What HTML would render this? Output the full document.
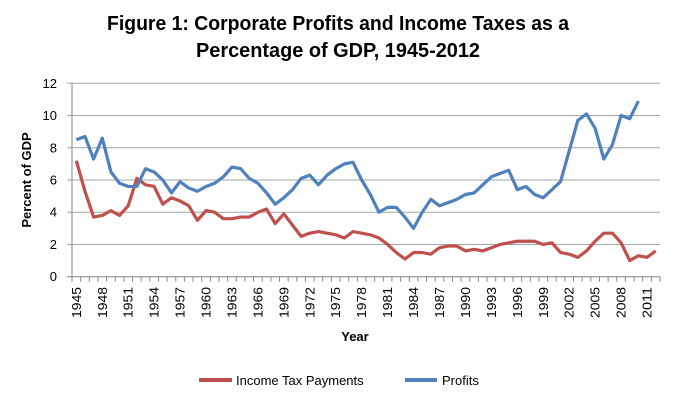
<!DOCTYPE html>
<html><head><meta charset="utf-8"><style>
html,body{margin:0;padding:0;background:#fff;}
svg{display:block;font-family:"Liberation Sans",sans-serif;}
</style></head><body>
<svg id="chart" width="700" height="402" viewBox="0 0 700 402">
<text x="107" y="30" font-size="20" font-weight="bold" textLength="462" lengthAdjust="spacingAndGlyphs">Figure 1: Corporate Profits and Income Taxes as a</text>
<text x="196" y="57" font-size="20" font-weight="bold" textLength="284" lengthAdjust="spacingAndGlyphs">Percentage of GDP, 1945-2012</text>
<g id="grid"></g><g id="axes"></g><g id="series"></g>
<text x="355" y="341" text-anchor="middle" font-size="13" font-weight="bold">Year</text>
<text transform="translate(31,180) rotate(-90)" text-anchor="middle" font-size="13" font-weight="bold">Percent of GDP</text>
<g>
<line x1="199" y1="380" x2="232" y2="380" stroke="#c0504d" stroke-width="4"/>
<text x="236" y="385" font-size="13">Income Tax Payments</text>
<line x1="405" y1="380" x2="437" y2="380" stroke="#4f81bd" stroke-width="4"/>
<text x="442" y="385" font-size="13">Profits</text>
</g>
</svg>
<script>
const startYear = 1945;
const yTicks = [0,2,4,6,8,10,12];
const profits = [8.5,8.7,7.3,8.6,6.5,5.8,5.6,5.6,6.7,6.5,6.0,5.2,5.9,5.5,5.3,5.6,5.8,6.2,6.8,6.7,6.1,5.8,5.2,4.5,4.9,5.4,6.1,6.3,5.7,6.3,6.7,7.0,7.1,6.0,5.1,4.0,4.3,4.3,3.7,3.0,4.0,4.8,4.4,4.6,4.8,5.1,5.2,5.7,6.2,6.4,6.6,5.4,5.6,5.1,4.9,5.4,5.9,7.8,9.7,10.1,9.2,7.3,8.2,10.0,9.8,10.9];
const taxes = [7.2,5.3,3.7,3.8,4.1,3.8,4.4,6.1,5.7,5.6,4.5,4.9,4.7,4.4,3.5,4.1,4.0,3.6,3.6,3.7,3.7,4.0,4.2,3.3,3.9,3.2,2.5,2.7,2.8,2.7,2.6,2.4,2.8,2.7,2.6,2.4,2.0,1.5,1.1,1.5,1.5,1.4,1.8,1.9,1.9,1.6,1.7,1.6,1.8,2.0,2.1,2.2,2.2,2.2,2.0,2.1,1.5,1.4,1.2,1.6,2.2,2.7,2.7,2.1,1.0,1.3,1.2,1.6];
const nCats = 68;
const NS='http://www.w3.org/2000/svg';
const X0=72,X1=660,Y0=276.7,Y12=83.3;
const band=(X1-X0)/nCats;
const x=i=>X0+(i+0.5)*band;
const y=v=>Y0-(v/12)*(Y0-Y12);
function mk(tag,attrs,parent){const e=document.createElementNS(NS,tag);for(const k in attrs)e.setAttribute(k,attrs[k]);parent.appendChild(e);return e;}
const grid=document.getElementById('grid'),axes=document.getElementById('axes'),ser=document.getElementById('series');
yTicks.forEach(t=>{
  const l=mk('line',{x1:X0-5,x2:X1,y1:y(t),y2:y(t),stroke:t===0?'#868686':'#a6a6a6','stroke-width':1},grid);
  
  
  const tx=mk('text',{x:57,y:y(t)+4.5,'text-anchor':'end','font-size':13},axes);
  tx.textContent=t;
  
  
});
const ax=mk('line',{x1:X0,x2:X0,y1:Y12,y2:Y0,stroke:'#868686'},axes);


for(let i=0;i<=nCats;i++){
  const tk=mk('line',{x1:X0+i*band,x2:X0+i*band,y1:Y0,y2:Y0+5,stroke:'#868686'},axes);
  
  
}
for(let i=0;i<nCats;i+=3){
  const xx=x(i)+4.5;
  const t=mk('text',{transform:`translate(${xx},287) rotate(-90)`,'text-anchor':'end','font-size':13,textLength:31,lengthAdjust:'spacingAndGlyphs'},axes);
  t.textContent=startYear+i;
  
  
}
function line(vals,color,name){
  const p=mk('polyline',{points:vals.map((v,i)=>x(i)+','+y(v)).join(' '),fill:'none',stroke:color,'stroke-width':3.2,'stroke-linejoin':'round'},ser);
  
  
}
line(taxes,'#c0504d','income-tax-line');
line(profits,'#4f81bd','profits-line');
</script>
</body></html>
